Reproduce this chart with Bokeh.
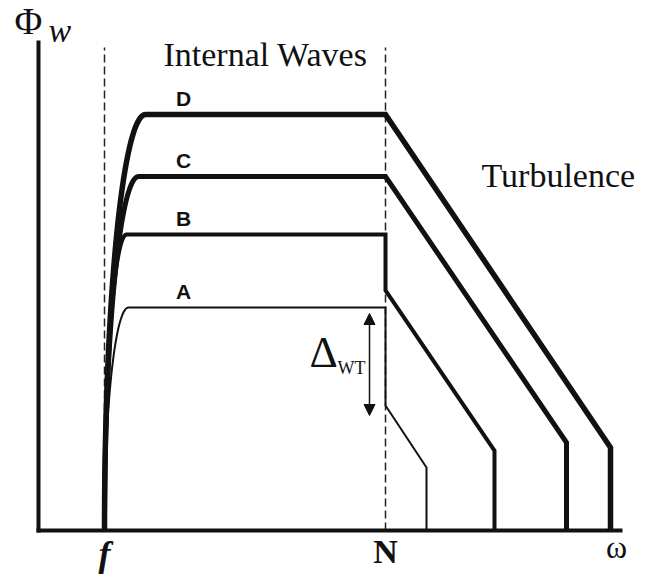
import numpy as np
from bokeh.plotting import figure
from bokeh.models import Range1d, Arrow, NormalHead
from bokeh.core.properties import value
from bokeh.embed import file_html
from bokeh.resources import INLINE

# ---- schematic data (arbitrary units: x = frequency, y = spectral level) ----
curves = ["A", "B", "C", "D"]
f_freq = 66          # inertial frequency f
N_freq = 347         # buoyancy frequency N
x_axis_end = 584
y_axis_top = 490
dash_top = 483
plateau_level = [223, 296, 354, 416]     # internal-wave plateau
plateau_start = [90, 88, 100, 107]       # frequency where the plateau begins
level_after_N = [125, 240, 354, 416]     # level just above N (after drop Δ_WT)
cutoff_freq = [388, 456, 528, 572]       # end of turbulence slope
cutoff_level = [63, 80, 88, 83]          # level at the end of the slope
label_freq = [145, 145, 145, 145]

widths = [2, 4, 5, 5.5]

p = figure(width=657, height=581, x_range=Range1d(-38, 619), y_range=Range1d(-51, 530),
           x_axis_type=None, y_axis_type=None, toolbar_location=None,
           output_backend="svg", min_border=0, outline_line_color=None,
           background_fill_color="white", border_fill_color="white")
p.grid.visible = False

INK = "#111111"


def label(x, y, s, size, font="Liberation Serif", style="normal", align="left"):
    # shift baseline so that the rendered glyph baseline lands at y
    p.text([x], [y + 0.36 * size], text=[s], text_font=value(font), text_font_style=style,
           text_font_size=f"{size}px", text_align=align, text_baseline="alphabetic",
           text_color=INK)


# dashed guide lines at f and N
for xv in (f_freq, N_freq):
    p.line([xv, xv], [0, dash_top], line_color="#222222", line_width=1.5, line_dash="8 4")

# spectra
theta = np.linspace(0, np.pi / 2, 40)
for i, name in enumerate(curves):
    w = plateau_start[i] - f_freq
    h = plateau_level[i]
    xs = list(plateau_start[i] - w * np.cos(theta))
    ys = list(h * np.sin(theta))
    xs += [N_freq, N_freq, cutoff_freq[i], cutoff_freq[i]]
    ys += [plateau_level[i], level_after_N[i], cutoff_level[i], 0]
    p.line(xs, ys, line_color=INK, line_width=widths[i], line_join="miter")
    label(label_freq[i], plateau_level[i] + 8, name, 21, font="Liberation Sans",
          style="bold", align="center")

# axes
p.line([0, 0], [-2, y_axis_top], line_color=INK, line_width=4)
p.line([-2, x_axis_end], [0, 0], line_color=INK, line_width=4)

label(-24, 496, "Φ", 38)
label(10, 488, "w", 34, style="italic")
label(227, 464, "Internal Waves", 34, align="center")
label(443, 343, "Turbulence", 34)
label(f_freq, -36, "f", 36, style="bold italic", align="center")
label(N_freq, -33, "N", 34, style="bold", align="center")
label(x_axis_end - 6, -28, "ω", 32, align="center")

# Δ_WT annotation
label(271, 162, "Δ", 44)
label(299, 156, "WT", 18)
p.add_layout(Arrow(x_start=331, y_start=plateau_level[0] - 6, x_end=331, y_end=level_after_N[0] - 10,
                   line_width=1.5, line_color=INK,
                   start=NormalHead(size=11, fill_color=INK, line_color=INK),
                   end=NormalHead(size=11, fill_color=INK, line_color=INK)))

open("out.html", "w").write(file_html(p, INLINE))
